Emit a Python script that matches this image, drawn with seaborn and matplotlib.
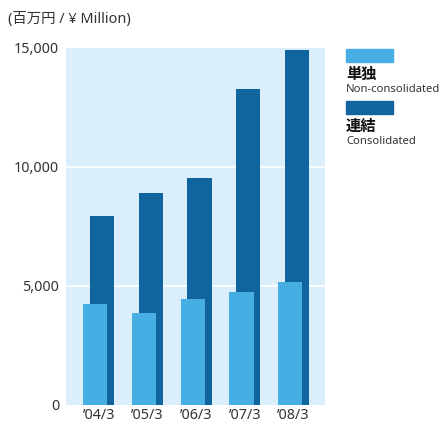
import numpy as np
import pandas as pd
import matplotlib
matplotlib.use('Agg')
import matplotlib.pyplot as plt
import seaborn as sns

# Dados (百万円)
anos = ['’04/3', '’05/3', '’06/3', '’07/3', '’08/3']
nao_consolidado = [4230, 3850, 4440, 4735, 5155]
consolidado = [7930, 8900, 9520, 13260, 14900]

cor_clara = '#47aee3'
cor_escura = '#10659e'
cor_fundo = '#dbeefb'

sns.set_style('white')
plt.rcParams['font.family'] = ['Noto Sans', 'Noto Sans CJK JP', 'DejaVu Sans']

pos = np.arange(len(anos))
df = pd.DataFrame({'pos': pos, 'single': nao_consolidado, 'cons': consolidado})

fig = plt.figure(figsize=(4.43, 4.22), dpi=100)
ax = fig.add_axes([66 / 443, 17.3 / 422, 259 / 443, 357 / 422])
ax.set_facecolor(cor_fundo)

# Barras consolidadas atras, deslocadas para a direita
sns.barplot(x=df['pos'] + 0.07, y=df['cons'], native_scale=True, width=0.5,
            color=cor_escura, saturation=1, edgecolor='none', linewidth=0,
            ax=ax, zorder=2)
# Barras individuais na frente, deslocadas para a esquerda
sns.barplot(x=df['pos'] - 0.07, y=df['single'], native_scale=True, width=0.5,
            color=cor_clara, saturation=1, edgecolor='none', linewidth=0,
            ax=ax, zorder=3)

for g in [5000, 10000]:
    ax.axhline(g, color='white', linewidth=1.2, zorder=1)

ax.set_xlim(-0.67, 4.645)
ax.set_ylim(0, 15000)
ax.set_xticks(pos)
ax.set_xticklabels(anos)
ax.set_yticks([0, 5000, 10000, 15000])
ax.set_yticklabels(['0', '5,000', '10,000', '15,000'])
ax.tick_params(axis='both', length=0, labelsize=10.3, colors='#333333')
ax.tick_params(axis='y', pad=5)
ax.tick_params(axis='x', pad=2.5)
ax.set_xlabel('')
ax.set_ylabel('')
for s in ax.spines.values():
    s.set_visible(False)

fig.text(8 / 443, 1 - 19 / 422, '(百万円 / ¥ Million)', fontsize=10.4,
         color='#333333', va='center', ha='left')

# Legenda manual
lx = 346 / 443
fig.patches.append(plt.Rectangle((lx, 1 - 62 / 422), 47 / 443, 13 / 422,
                                 transform=fig.transFigure, color=cor_clara))
fig.text(lx, 1 - 75 / 422, '単独', fontsize=11, fontweight='bold',
         color='#111111', va='center')
fig.text(lx, 1 - 90 / 422, 'Non-consolidated', fontsize=8.1,
         color='#333333', va='center')
fig.patches.append(plt.Rectangle((lx, 1 - 114 / 422), 47 / 443, 13 / 422,
                                 transform=fig.transFigure, color=cor_escura))
fig.text(lx, 1 - 127 / 422, '連結', fontsize=11, fontweight='bold',
         color='#111111', va='center')
fig.text(lx, 1 - 142 / 422, 'Consolidated', fontsize=8.1,
         color='#333333', va='center')

fig.savefig('out.png', dpi=100)
